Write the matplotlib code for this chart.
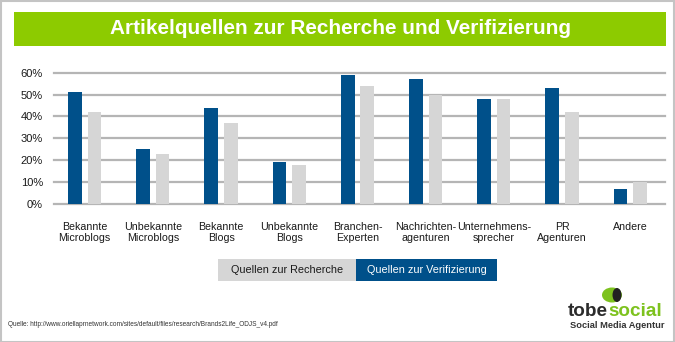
import matplotlib.pyplot as plt
from matplotlib.patches import Rectangle, Ellipse
import numpy as np

# Werte aus der Grafik (Prozent)
categories = ['Bekannte\nMicroblogs', 'Unbekannte\nMicroblogs', 'Bekannte\nBlogs',
              'Unbekannte\nBlogs', 'Branchen-\nExperten', 'Nachrichten-\nagenturen',
              'Unternehmens-\nsprecher', 'PR\nAgenturen', 'Andere']
verifizierung = [51, 25, 44, 19, 59, 57, 48, 53, 7]
recherche = [42, 23, 37, 18, 54, 50, 48, 42, 10]
yticks = [0, 10, 20, 30, 40, 50, 60]
ylabels = ['0%', '10%', '20%', '30%', '40%', '50%', '60%']

title = 'Artikelquellen zur Recherche und Verifizierung'
legend_labels = ['Quellen zur Recherche', 'Quellen zur Verifizierung']
source = 'Quelle: http://www.oriellaprnetwork.com/sites/default/files/research/Brands2Life_ODJS_v4.pdf'

BLUE = '#00508a'
GRAY = '#d6d6d6'
GREEN = '#8dcb00'
FONT = 'Liberation Sans'

W, H = 675, 342
fig = plt.figure(figsize=(W / 100, H / 100), dpi=100)
fig.patch.set_facecolor('white')
renderer = fig.canvas.get_renderer()


def px(x, y, w, h):
    # pixel box (top-left origin) -> figure fraction
    return [x / W, 1 - (y + h) / H, w / W, h / H]


def fit(txt, width_px):
    # Schriftgroesse so anpassen, dass der Text die Breite aus dem Original hat
    ext = txt.get_window_extent(renderer)
    txt.set_fontsize(txt.get_fontsize() * width_px / ext.width)
    return txt


# Rahmen und Titelbalken
fig.patches.append(Rectangle((0.5 / W, 0.5 / H), 1 - 1.5 / W, 1 - 1.5 / H,
                             transform=fig.transFigure, fill=False,
                             edgecolor='#c4c4c4', linewidth=1.5))
b = px(14, 12, 652, 34)
fig.patches.append(Rectangle((b[0], b[1]), b[2], b[3], transform=fig.transFigure,
                             facecolor=GREEN, edgecolor='none'))
t = fig.text(b[0] + b[2] / 2, b[1] + b[3] / 2, title, color='white', fontsize=16,
             fontweight='bold', family=FONT, ha='center', va='center')
fit(t, 458)

# Diagramm
ax = fig.add_axes(px(54, 72.7, 611, 131.3))
x = np.arange(len(categories))
bw = 0.2
off = 0.143
ax.bar(x - off, verifizierung, bw, color=BLUE, zorder=3)
ax.bar(x + off, recherche, bw, color=GRAY, zorder=3)
ax.set_ylim(0, 60)
ax.set_xlim(-0.45, 8.51)
ax.set_yticks(yticks)
ax.set_yticklabels(ylabels, fontsize=8, family=FONT, color='#1a1a1a')
ax.set_xticks(x)
ax.set_xticklabels(categories, fontsize=7.7, family=FONT, linespacing=1.15,
                   color='#1a1a1a')
ax.tick_params(axis='both', length=0)
ax.tick_params(axis='y', pad=8)
ax.tick_params(axis='x', pad=13)
ax.yaxis.grid(True, color='#b5b5b5', linewidth=1.6, zorder=0)
ax.set_axisbelow(True)
for s in ax.spines.values():
    s.set_visible(False)
for gl in ax.get_ygridlines():
    gl.set_clip_on(False)

# Legende
lg = px(218, 259, 138, 22)
fig.patches.append(Rectangle((lg[0], lg[1]), lg[2], lg[3], transform=fig.transFigure,
                             facecolor=GRAY, edgecolor='none'))
fig.text(lg[0] + lg[2] / 2, lg[1] + lg[3] / 2, legend_labels[0], fontsize=7.8,
         family=FONT, color='#1a1a1a', ha='center', va='center')
lb = px(356, 259, 141, 22)
fig.patches.append(Rectangle((lb[0], lb[1]), lb[2], lb[3], transform=fig.transFigure,
                             facecolor=BLUE, edgecolor='none'))
fig.text(lb[0] + lb[2] / 2, lb[1] + lb[3] / 2, legend_labels[1], fontsize=7.8,
         family=FONT, color='white', ha='center', va='center')

# Quelle
q = fig.text(8 / W, 1 - 324 / H, source, fontsize=5, family=FONT, color='#333333',
             ha='left', va='center')
fit(q, 276)

# Logo
fig.patches.append(Ellipse((612 / W, 1 - 295 / H), 20 / W, 15 / H,
                           transform=fig.transFigure, facecolor='#7dc21e',
                           edgecolor='none'))
fig.patches.append(Ellipse((617 / W, 1 - 295 / H), 9 / W, 14 / H,
                           transform=fig.transFigure, facecolor='#222222',
                           edgecolor='none'))
t1 = fig.text(568 / W, 1 - 312 / H, 'tobe', fontsize=13.6, family=FONT,
              fontweight='bold', color='#2b2b2b', ha='left', va='center')
e1 = t1.get_window_extent(renderer)
fig.text(e1.x1 / W, 1 - 312 / H, 'social', fontsize=13.6, family=FONT,
         fontweight='bold', color='#7dc21e', ha='left', va='center')
s = fig.text(664 / W, 1 - 326 / H, 'Social Media Agentur', fontsize=6.5,
             family=FONT, fontweight='bold', color='#333333',
             ha='right', va='center')
fit(s, 94)

fig.savefig('out.png', dpi=100)
